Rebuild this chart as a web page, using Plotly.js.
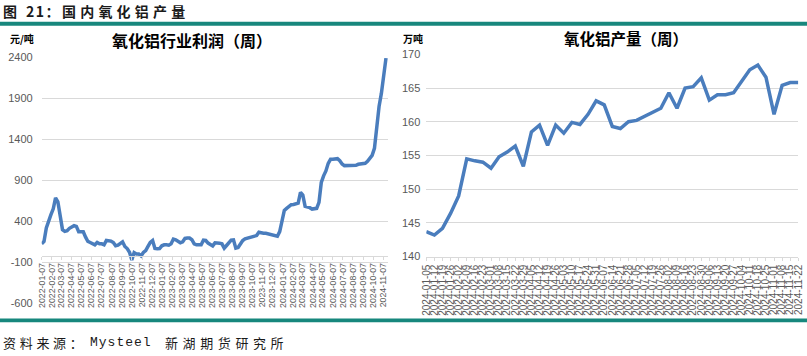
<!DOCTYPE html>
<html><head><meta charset="utf-8">
<script src="https://cdn.plot.ly/plotly-3.0.1.min.js"></script>
<style>html,body{margin:0;padding:0;background:#fff;}#chart{width:807px;height:356px;}</style>
</head><body><div id="chart"></div>
<script>
// Left chart: weekly alumina industry profit (元/吨), Fridays from 2022-01-07
const profitStart = '2022-01-07';
const profitValues = [
  125,154,318,420,482,552,685,638,441,298,
  277,285,314,334,346,338,273,273,273,207,
  154,142,125,113,142,125,125,113,166,166,
  158,142,101,109,134,150,93,68,23,-71,
  19,2,2,-22,19,43,93,142,166,68,
  64,68,101,113,113,109,125,183,175,154,
  138,150,191,195,195,175,125,113,117,113,
  170,166,134,113,100,137,137,133,125,73,
  105,145,170,174,73,81,125,166,186,194,
  202,206,210,226,267,259,255,255,246,238,
  234,222,218,275,428,533,558,582,602,606,
  614,622,752,719,582,578,566,549,549,558,
  630,873,954,1014,1107,1156,1156,1160,1164,1139,
  1099,1079,1079,1079,1079,1083,1083,1095,1099,1099,
  1107,1131,1164,1204,1290,1550,1800,1960,2160,2390
];
const profitRange = ['2022-01-07', '2024-11-22'];
const profitTicks = [-600, -100, 400, 900, 1400, 1900, 2400];

// Right chart: weekly alumina output (万吨)
const outputDates = [
  '2024-01-05','2024-01-12','2024-01-19','2024-01-26','2024-02-02','2024-02-09','2024-02-16','2024-02-23',
  '2024-03-01','2024-03-08','2024-03-15','2024-03-22','2024-03-29','2024-04-05','2024-04-12','2024-04-19',
  '2024-04-26','2024-05-03','2024-05-10','2024-05-17','2024-05-24','2024-05-31','2024-06-07','2024-06-14',
  '2024-06-21','2024-06-28','2024-07-05','2024-07-12','2024-07-19','2024-07-26','2024-08-02','2024-08-09',
  '2024-08-16','2024-08-23','2024-08-30','2024-09-06','2024-09-13','2024-09-20','2024-09-27','2024-10-04',
  '2024-10-11','2024-10-18','2024-10-25','2024-11-01','2024-11-08','2024-11-15','2024-11-22'
];
const outputValues = [
  143.7,143.2,144.2,146.4,149.0,154.5,154.2,154.0,153.1,154.8,
  155.5,156.4,153.4,158.5,159.5,156.5,159.5,158.3,159.9,159.6,
  161.1,163.1,162.5,159.3,159.0,160.0,160.2,160.8,161.3,162.0,
  164.3,162.0,165.0,165.2,166.5,163.2,164.0,164.0,164.3,165.9,
  167.7,168.4,166.6,161.1,165.4,165.8,165.8
];
const outputTicks = [140, 145, 150, 155, 160, 165, 170];

const headerFig = '图';
const headerNum = '21：';
const headerText = '国内氧化铝产量';
const leftTitle = '氧化铝行业利润（周）';
const rightTitle = '氧化铝产量（周）';
const leftUnit = '元/吨';
const rightUnit = '万吨';
const sourceLabel = '资料来源：';
const sourceName = 'Mysteel';
const sourceOrg = '新湖期货研究所';

const W = 807, H = 356;
const px = x => x / W;
const py = y => 1 - y / H;
const LINE = '#4a7dbd';
const GRID = '#d9d9d9';
const TICKC = '#595959';
const TEAL = '#17877d';
const CJK = 'Noto Sans CJK SC, sans-serif';
const LAT = 'Liberation Sans, Arial, sans-serif';
const MONO = 'Liberation Mono, DejaVu Sans Mono, monospace';

const traces = [
  {type:'scatter', mode:'lines', x0: profitStart, dx: 7*24*3600*1000, y: profitValues,
   xaxis:'x', yaxis:'y', line:{color:LINE, width:3.5}, hoverinfo:'skip'},
  {type:'scatter', mode:'lines', x: outputDates, y: outputValues,
   xaxis:'x2', yaxis:'y2', line:{color:LINE, width:3.5}, hoverinfo:'skip'}
];

function note(x, y, text, font, anchor) {
  return {xref:'paper', yref:'paper', x:px(x), y:py(y), xanchor:anchor||'left', yanchor:'middle',
          showarrow:false, text:text, font:font};
}

const layout = {
  width: W, height: H,
  margin: {l:0, r:0, t:0, b:0},
  paper_bgcolor:'#fff', plot_bgcolor:'rgba(0,0,0,0)',
  showlegend:false,
  xaxis: {
    domain:[px(41.7), px(388.3)], type:'date', range: profitRange,
    tickmode:'linear', tick0: profitStart, dtick:'M1', tickformat:'%Y-%m-%d',
    tickangle:-90, tickfont:{family:LAT, size:8.8, color:TICKC},
    showgrid:false, zeroline:false, showline:true, linecolor:GRID, linewidth:1,
    ticks:'outside', ticklen:3, tickcolor:GRID, tickwidth:1,
    anchor:'free', position: py(255.5)
  },
  yaxis: {
    domain:[py(303.3), py(57.3)], range:[-600, 2400],
    tickmode:'array', tickvals: profitTicks, ticktext: profitTicks.map(String),
    showgrid:true, gridcolor:GRID, gridwidth:1, zeroline:false, showline:false,
    ticks:'', tickfont:{family:LAT, size:11, color:TICKC}, ticklabelstandoff:8,
    anchor:'x'
  },
  xaxis2: {
    domain:[px(426.3), px(798.3)], type:'category', range:[0, outputDates.length-1],
    tickmode:'array', tickvals: outputDates, ticktext: outputDates,
    tickangle:-90, tickfont:{family:LAT, size:10, color:TICKC},
    showgrid:false, zeroline:false, showline:true, linecolor:GRID, linewidth:1,
    ticks:'outside', ticklen:3, tickcolor:GRID, tickwidth:1,
    anchor:'y2'
  },
  yaxis2: {
    domain:[py(256.6), py(54.3)], range:[140, 170],
    tickmode:'array', tickvals: outputTicks, ticktext: outputTicks.map(String),
    showgrid:true, gridcolor:GRID, gridwidth:1, zeroline:false, showline:false,
    ticks:'', tickfont:{family:LAT, size:11, color:TICKC}, ticklabelstandoff:5,
    anchor:'x2'
  },
  shapes: [
    {type:'rect', xref:'paper', yref:'paper', x0:0, x1:1, y0:py(25.8), y1:py(21.8), fillcolor:TEAL, line:{width:0}},
    {type:'rect', xref:'paper', yref:'paper', x0:0, x1:1, y0:py(322.3), y1:py(318.5), fillcolor:TEAL, line:{width:0}}
  ],
  annotations: [
    note(1, 11.2, '<b>'+headerFig+'</b>', {family:CJK, size:14, color:'#1a1a1a'}),
    note(24, 11.2, '<b><span style="letter-spacing:1.5px">'+headerNum+'</span></b>', {family:CJK, size:14, color:'#1a1a1a'}),
    note(59.5, 11.2, '<b><span style="letter-spacing:4.2px">'+headerText+'</span></b>', {family:CJK, size:14, color:'#1a1a1a'}),
    note(109.5, 40.3, '<b>'+leftTitle+'</b>', {family:CJK, size:16, color:'#000'}),
    note(562.3, 38.3, '<b>'+rightTitle+'</b>', {family:CJK, size:15.5, color:'#000'}),
    note(7.5, 38.5, '<b>'+leftUnit+'</b>', {family:CJK, size:10, color:'#000'}),
    note(401.3, 38.8, '<b>'+rightUnit+'</b>', {family:CJK, size:10, color:'#000'}),
    note(0.5, 342.5, '<span style="letter-spacing:3.7px">'+sourceLabel+'</span>', {family:CJK, size:13, color:'#1a1a1a'}),
    note(88, 342.5, '<span style="letter-spacing:1px">'+sourceName+'</span>', {family:MONO, size:13, color:'#1a1a1a'}),
    note(162.5, 342.5, '<span style="letter-spacing:4.6px">'+sourceOrg+'</span>', {family:CJK, size:13, color:'#1a1a1a'})
  ]
};

Plotly.newPlot('chart', traces, layout, {staticPlot:true, displayModeBar:false});
</script>
</body></html>
